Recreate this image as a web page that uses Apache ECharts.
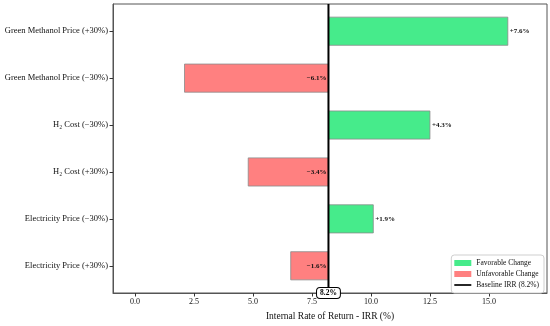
<!DOCTYPE html>
<html>
<head>
<meta charset="utf-8">
<script src="https://cdn.jsdelivr.net/npm/echarts@6/dist/echarts.min.js"></script>
<style>html,body{margin:0;padding:0;background:#fff}#c{width:550px;height:326px}</style>
</head>
<body>
<div id="c"></div>
<script>
const categories = ['Electricity Price (+30%)', 'Electricity Price (\u221230%)', 'H\u2082 Cost (+30%)', 'H\u2082 Cost (\u221230%)', 'Green Methanol Price (\u221230%)', 'Green Methanol Price (+30%)'];
const baselineIRR = 8.2;
const changes = [-1.6, 1.9, -3.4, 4.3, -6.1, 7.6];
const xTicks = [0, 2.5, 5, 7.5, 10, 12.5, 15];
const rowIndex = [0, 1, 2, 3, 4, 5];

const FONT = "'Liberation Serif', 'DejaVu Serif', serif";
const GREEN = '#46eb8b';
const RED = '#ff8080';
const Y_MIN = -0.58, Y_MAX = 5.58;

const fav = [], unfav = [];
changes.forEach((c, i) => {
  const item = [baselineIRR, baselineIRR + c, rowIndex[i], c];
  (c >= 0 ? fav : unfav).push(item);
});

function fmt(c) {
  return (c >= 0 ? '+' : '\u2212') + Math.abs(c).toFixed(1) + '%';
}

function barRender(color) {
  return function (params, api) {
    const s = api.value(0), e = api.value(1), r = api.value(2), c = api.value(3);
    const p1 = api.coord([s, r]);
    const p2 = api.coord([e, r]);
    const h = api.size([0, 0.6])[1];
    const x = Math.min(p1[0], p2[0]);
    const w = Math.abs(p2[0] - p1[0]);
    const label = c >= 0
      ? { type: 'text', style: { x: p2[0] + 2, y: p1[1], text: fmt(c), align: 'left', verticalAlign: 'middle', font: 'bold 7px ' + FONT, fill: '#111' } }
      : { type: 'text', style: { x: p1[0] - 2, y: p1[1], text: fmt(c), align: 'right', verticalAlign: 'middle', font: 'bold 7px ' + FONT, fill: '#111' } };
    return {
      type: 'group',
      children: [
        { type: 'rect', shape: { x: x, y: p1[1] - h / 2, width: w, height: h }, style: { fill: color, stroke: '#8a8a8a', lineWidth: 0.8 } },
        label
      ]
    };
  };
}

const chart = echarts.init(document.getElementById('c'), null, { renderer: 'canvas' });
chart.setOption({
  animation: false,
  backgroundColor: '#fff',
  textStyle: { fontFamily: FONT },
  grid: { left: 113, right: 3, top: 4, bottom: 29, show: true, borderColor: '#555', borderWidth: 1, backgroundColor: 'transparent' },
  xAxis: {
    type: 'value', min: -0.93, max: 17.46,
    name: 'Internal Rate of Return - IRR (%)', nameLocation: 'middle', nameGap: 18,
    nameTextStyle: { fontFamily: FONT, fontSize: 9.5, color: '#111' },
    axisLine: { show: true, onZero: false, lineStyle: { color: '#555', width: 1 } },
    axisTick: { show: true, inside: false, length: 3.5, customValues: xTicks, lineStyle: { color: '#333' } },
    axisLabel: { customValues: xTicks, formatter: v => v.toFixed(1), fontFamily: FONT, fontSize: 8, color: '#111', margin: 5 },
    splitLine: { show: false }
  },
  yAxis: {
    type: 'value', min: Y_MIN, max: Y_MAX,
    axisLine: { show: true, onZero: false, lineStyle: { color: '#555', width: 1 } },
    axisTick: { show: true, inside: false, length: 3.5, customValues: rowIndex, lineStyle: { color: '#333' } },
    axisLabel: { customValues: rowIndex, formatter: v => categories[Math.round(v)], fontFamily: FONT, fontSize: 8.5, color: '#111', margin: 5 },
    splitLine: { show: false }
  },
  legend: {
    orient: 'vertical', right: 6, bottom: 33,
    backgroundColor: '#fff', borderColor: '#cfcfcf', borderWidth: 1, borderRadius: 3,
    padding: [4, 5, 4, 3], itemGap: 3, itemWidth: 17, itemHeight: 6,
    textStyle: { fontFamily: FONT, fontSize: 7.5, color: '#111', padding: [0, 0, 0, 0] },
    data: [
      { name: 'Favorable Change', icon: 'rect', itemStyle: { color: GREEN, borderWidth: 0 } },
      { name: 'Unfavorable Change', icon: 'rect', itemStyle: { color: RED, borderWidth: 0 } },
      { name: 'Baseline IRR (8.2%)', icon: 'path://M0,0L20,0L20,2L0,2Z', itemStyle: { color: '#000' } }
    ]
  },
  series: [
    { name: 'Favorable Change', type: 'custom', itemStyle: { color: GREEN }, renderItem: barRender(GREEN), data: fav, encode: { x: [0, 1], y: 2 }, z: 2 },
    { name: 'Unfavorable Change', type: 'custom', itemStyle: { color: RED }, renderItem: barRender(RED), data: unfav, encode: { x: [0, 1], y: 2 }, z: 2 },
    {
      name: 'Baseline IRR (8.2%)', type: 'custom', itemStyle: { color: '#000' }, z: 5,
      data: [[baselineIRR]], encode: { x: 0 },
      renderItem: function (params, api) {
        const v = api.value(0);
        const top = api.coord([v, Y_MAX]);
        const bot = api.coord([v, Y_MIN]);
        return {
          type: 'group',
          children: [
            { type: 'line', shape: { x1: top[0], y1: top[1], x2: bot[0], y2: bot[1] }, style: { stroke: '#000', lineWidth: 2 } },
            { type: 'text', z2: 10, style: { x: bot[0], y: bot[1], text: v.toFixed(1) + '%', align: 'center', verticalAlign: 'middle', font: 'bold 7.5px ' + FONT, fill: '#000', backgroundColor: '#fff', borderColor: '#000', borderWidth: 1, borderRadius: 3, padding: [1, 3, 1, 3] } }
          ]
        };
      }
    }
  ]
});
</script>
</body>
</html>
